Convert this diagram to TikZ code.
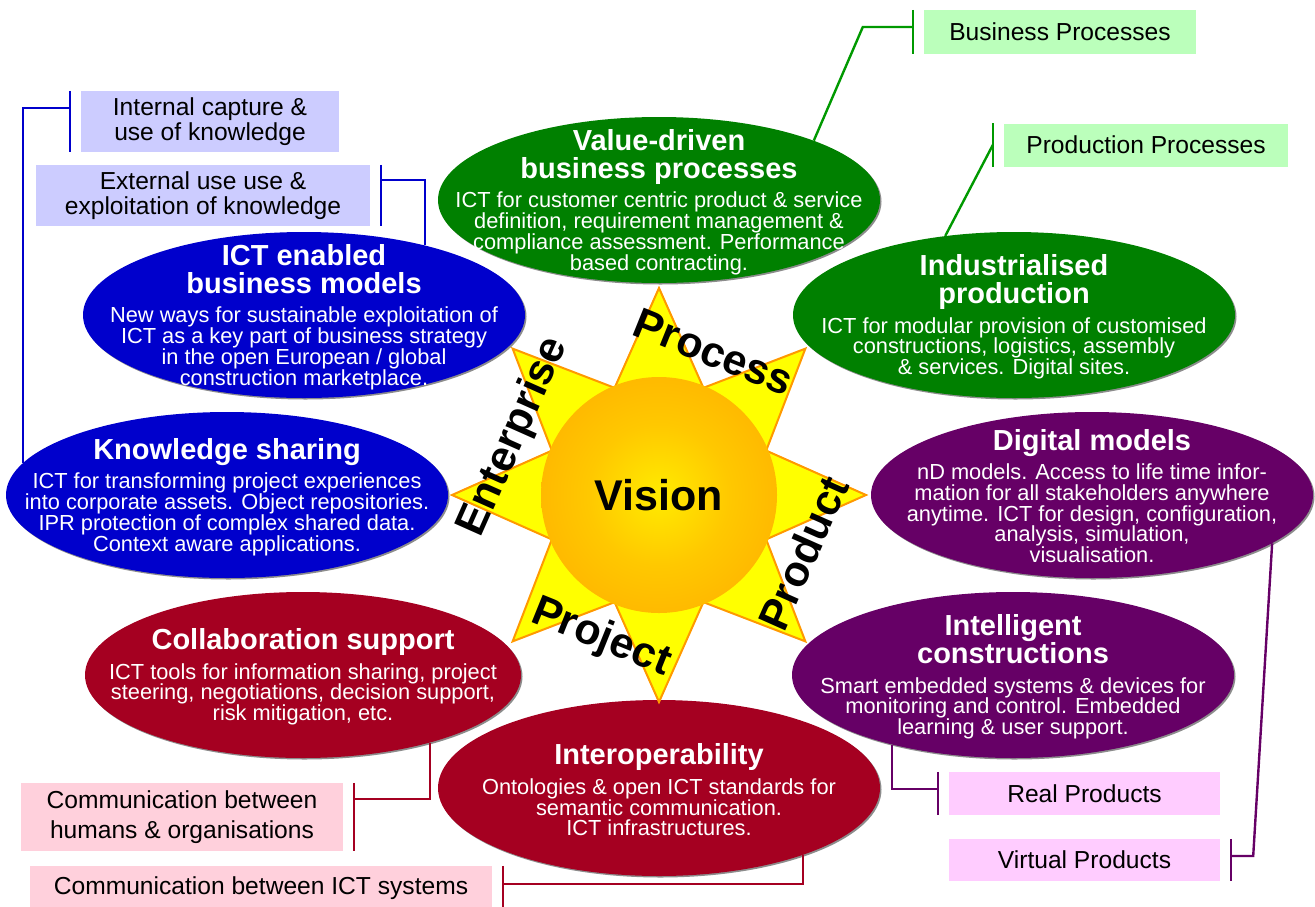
\documentclass[tikz,border=0pt]{standalone}
\usepackage{fontspec}
\setmainfont{Liberation Sans}
\usepackage{tikz}
\usetikzlibrary{shapes.geometric,shadows}

\definecolor{vgreen}{RGB}{0,128,0}
\definecolor{vblue}{RGB}{0,0,204}
\definecolor{vpurple}{RGB}{102,0,102}
\definecolor{vred}{RGB}{165,0,33}
\definecolor{lngreen}{RGB}{0,153,0}
\definecolor{boxblue}{RGB}{204,204,255}
\definecolor{boxgreen}{RGB}{187,255,187}
\definecolor{boxpink}{RGB}{255,204,255}
\definecolor{boxrose}{RGB}{255,208,220}
\definecolor{rayfill}{RGB}{255,255,0}
\definecolor{raydraw}{RGB}{255,153,0}
\definecolor{sunin}{RGB}{255,235,0}
\definecolor{sunmid}{RGB}{255,200,0}
\definecolor{sunout}{RGB}{255,150,0}
\pgfdeclareradialshading{sunshade}{\pgfpoint{0bp}{0bp}}{color(0bp)=(sunin); color(15bp)=(sunmid); color(50bp)=(sunout)}

% title + body of an oval
\newcommand{\ovtext}[2]{\begin{minipage}{440pt}\centering\lineskiplimit=-100pt
  {\fontsize{29}{28}\selectfont\bfseries #1\par}\vspace{8.5pt}
  \fontsize{21.8}{20.8}\selectfont #2\end{minipage}}

\begin{document}
\begin{tikzpicture}[x=1pt,y=-1pt,
  oval/.style={ellipse,minimum width=442pt,minimum height=166pt,inner sep=0pt,
    drop shadow={shadow xshift=1.5pt,shadow yshift=-1.5pt,opacity=.45,fill=black}},
  ovt/.style={text=white,inner sep=0pt},
  lbl/.style={inner sep=0pt,align=center,font=\fontsize{24.6}{25}\selectfont},
  ray/.style={fill=rayfill,draw=raydraw,line width=2pt,line join=miter},
  sl/.style={font=\fontsize{43}{43}\selectfont\bfseries,inner sep=0pt},
  ln/.style={line width=2.4pt}]
  \useasboundingbox (0,0) rectangle (1315,906);

  % ovals
  \node[oval,fill=vblue] (icte) at (304,315) {};
  \node[ovt] (icte-t) at ([yshift=-2pt]icte) {\ovtext{ICT enabled\\business models}{New ways for sustainable exploitation of\\ICT as a key part of business strategy\\in the open European / global\\construction marketplace.}};
  \node[oval,fill=vgreen] (vdp) at (659,200) {};
  \node[ovt] (vdp-t) at ([yshift=-2pt]vdp) {\ovtext{Value-driven\\business processes}{ICT for customer centric product \& service\\definition, requirement management \&\\compliance assessment. Performance\\based contracting.}};
  \node[oval,fill=vgreen] (indp) at (1014,315) {};
  \node[ovt] (indp-t) at ([yshift=-2pt]indp) {\ovtext{Industrialised\\production}{ICT for modular provision of customised\\constructions, logistics, assembly\\\& services. Digital sites.}};
  \node[oval,fill=vblue] (know) at (227,495) {};
  \node[ovt] (know-t) at ([yshift=-2pt]know) {\ovtext{Knowledge sharing}{ICT for transforming project experiences\\into corporate assets. Object repositories.\\IPR protection of complex shared data.\\Context aware applications.}};
  \node[oval,fill=vpurple] (digm) at (1092,495) {};
  \node[ovt] (digm-t) at ([yshift=-1pt]digm) {\ovtext{Digital models}{nD models. Access to life time infor-\\mation for all stakeholders anywhere\\anytime. ICT for design, configuration,\\analysis, simulation,\\visualisation.}};
  \node[oval,fill=vred,minimum width=436pt] (collab) at (303,675) {};
  \node[ovt] (collab-t) at ([yshift=-2pt]collab) {\ovtext{Collaboration support}{ICT tools for information sharing, project\\steering, negotiations, decision support,\\risk mitigation, etc.}};
  \node[oval,fill=vred,minimum height=176pt] (interop) at (659,788) {};
  \node[ovt] (interop-t) at ([yshift=-2pt]interop) {\ovtext{Interoperability}{Ontologies \& open ICT standards for\\semantic communication.\\ICT infrastructures.}};
  \node[oval,fill=vpurple] (intc) at (1013,675) {};
  \node[ovt] (intc-t) at ([yshift=-2pt]intc) {\ovtext{Intelligent\\constructions}{Smart embedded systems \& devices for\\monitoring and control. Embedded\\learning \& user support.}};

  % star and sun
  \coordinate (c) at (659,495);
  \filldraw[ray,shift={(c)}] (90:207) \foreach \a in {67.5,22.5,...,-247.5} {-- (\a:116) -- ({\a-22.5}:207)} -- cycle;
  \node[circle,minimum size=236pt,inner sep=0pt,shading=sunshade,
    font=\fontsize{43}{43}\selectfont\bfseries] (sun) at (c) {Vision};
  \node[sl,rotate=-22] (proc) at (714,352) {Process};
  \node[sl,rotate=66] (ent) at (514,437) {Enterprise};
  \node[sl,rotate=66] (prod) at (803,553) {Product};
  \node[sl,rotate=-22] (proj) at (601,638) {Project};

  % side labels
  \node[lbl,fill=boxblue,minimum width=258pt,minimum height=61pt] (incap) at (210,121.5) {Internal capture \&\\use of knowledge};
  \node[lbl,fill=boxblue,minimum width=334pt,minimum height=61pt] (exuse) at (203,195.5) {External use use \&\\exploitation of knowledge};
  \node[lbl,fill=boxgreen,minimum width=272pt,minimum height=44pt] (bproc) at (1060,32) {Business Processes};
  \node[lbl,fill=boxgreen,minimum width=284pt,minimum height=43pt] (pproc) at (1146,145) {Production Processes};
  \node[lbl,fill=boxpink,minimum width=271pt,minimum height=43pt] (realp) at (1084.5,793.5) {Real Products};
  \node[lbl,fill=boxpink,minimum width=271pt,minimum height=42pt] (virtp) at (1084.5,860) {Virtual Products};
  \node[lbl,fill=boxrose,minimum width=322pt,minimum height=68pt] (comhum) at (182,817) {Communication between\\[5pt]humans \& organisations};
  \node[lbl,fill=boxrose,minimum width=462pt,minimum height=44pt] (comict) at (261,888) {Communication between ICT systems};

  % brackets
  \foreach \b/\c in {incap/vblue,bproc/lngreen,pproc/lngreen,realp/vpurple}
    {\draw[ln,\c] ([xshift=-11pt]\b.north west) -- ([xshift=-11pt]\b.south west);}
  \foreach \b/\c in {exuse/vblue,virtp/vpurple,comhum/vred,comict/vred}
    {\draw[ln,\c] ([xshift=11pt]\b.north east) -- ([xshift=11pt]\b.south east);}

  % connectors
  \draw[ln,vblue] (know.171) |- ([xshift=-11pt,yshift=-17pt]incap.north west);
  \draw[ln,vblue] (icte.30) |- ([xshift=11pt,yshift=-15pt]exuse.north east);
  \draw[ln,lngreen] (vdp.21) -- ([xshift=-61pt,yshift=5pt]bproc.west) -- ([xshift=-11pt,yshift=5pt]bproc.west);
  \draw[ln,lngreen] (indp.131) -- ([xshift=-11pt]pproc.west);
  \draw[ln,vpurple] (intc.210) |- ([xshift=-11pt,yshift=-17pt]realp.north west);
  \draw[ln,vpurple] (digm.345) -- ([xshift=33pt,yshift=4pt]virtp.east) -- ([xshift=11pt,yshift=4pt]virtp.east);
  \draw[ln,vred] (collab.332) |- ([xshift=11pt,yshift=-16pt]comhum.north east);
  \draw[ln,vred] (interop.335) |- ([xshift=10pt,yshift=-18pt]comict.north east);
\end{tikzpicture}
\end{document}
